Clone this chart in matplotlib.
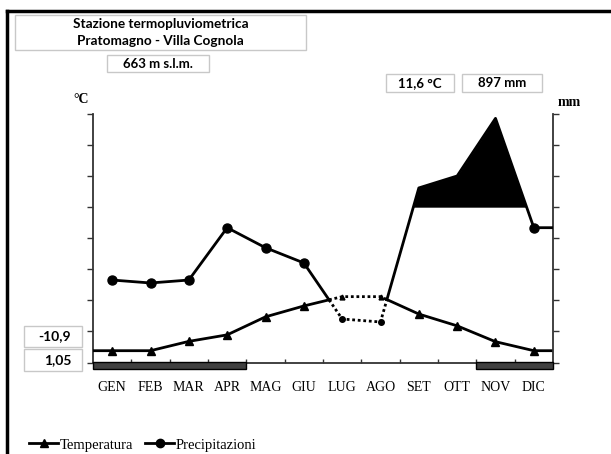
import matplotlib
matplotlib.use("Agg")
import matplotlib.pyplot as plt
import numpy as np
from matplotlib.patches import Rectangle
from matplotlib.lines import Line2D

months = ["GEN", "FEB", "MAR", "APR", "MAG", "GIU", "LUG", "AGO", "SET", "OTT", "NOV", "DIC"]
temperature = [3.8, 3.8, 6.8, 8.9, 14.7, 18.2, 21.2, 21.2, 15.6, 11.8, 6.7, 3.8]
precipitation = [53.1, 51.2, 53.1, 86.8, 73.9, 64.1, 28.0, 26.1, 112.4, 120.1, 157.2, 86.8]
frost_months = [(0, 4), (10, 12)]  # (first month index, end index)
title_lines = ["Stazione termopluviometrica", "Pratomagno - Villa Cognola"]
altitude_label = "663 m s.l.m."
mean_temp_label = "11,6 °C"
total_prec_label = "897 mm"
min_labels = ["-10,9", "1,05"]
humid_threshold = 100

W, H = 611, 454
fig = plt.figure(figsize=(W / 100, H / 100), dpi=100)

def fx(x):
    return x / W

def fy(y):
    return 1 - y / H

ax = fig.add_axes([fx(93), fy(362.5), fx(553) - fx(93), fy(114) - fy(362.5)])
ax2 = ax.twinx()

x = np.arange(12)
T = np.array(temperature)
P = np.array(precipitation)
T2 = 2 * T  # temperature on precipitation scale

# find crossings between precipitation and 2*T
segs = []
for i in range(11):
    d0 = P[i] - T2[i]
    d1 = P[i + 1] - T2[i + 1]
    if d0 * d1 < 0:
        t = d0 / (d0 - d1)
        segs.append((i + t, P[i] + t * (P[i + 1] - P[i])))
c1, c2 = segs[0], segs[1]
i1 = int(np.floor(c1[0]))
i2 = int(np.floor(c2[0]))

lw = 2.0
# precipitation (plotted on ax2)
ax2.fill_between(x, humid_threshold, P, where=P >= humid_threshold, interpolate=True,
                 color="black", zorder=2, linewidth=0)
px_solid1 = list(x[:i1 + 1]) + [c1[0]]
py_solid1 = list(P[:i1 + 1]) + [c1[1]]
px_dry = [c1[0]] + list(x[i1 + 1:i2 + 1]) + [c2[0]]
py_dry = [c1[1]] + list(P[i1 + 1:i2 + 1]) + [c2[1]]
px_solid2 = [c2[0]] + list(x[i2 + 1:]) + [11.5]
py_solid2 = [c2[1]] + list(P[i2 + 1:]) + [P[-1]]
ax2.plot(px_solid1, py_solid1, color="black", lw=lw, zorder=3)
ax2.plot(px_solid2, py_solid2, color="black", lw=lw, zorder=3)
ax2.plot(px_dry, py_dry, color="black", lw=lw, ls=(0, (1, 1)), zorder=3)
wet = (P - T2) >= 0
normal = wet & (P < humid_threshold)
ax2.plot(x[normal], P[normal], ls="none", marker="o", ms=6.5, color="black", zorder=4)
ax2.plot(x[~wet], P[~wet], ls="none", marker="o", ms=4, color="black", zorder=4)

# temperature on ax (0-80 scale)
tx_solid1 = [-0.5] + list(x[:i1 + 1]) + [c1[0]]
ty_solid1 = [T[0]] + list(T[:i1 + 1]) + [c1[1] / 2]
tx_dry = [c1[0]] + list(x[i1 + 1:i2 + 1]) + [c2[0]]
ty_dry = [c1[1] / 2] + list(T[i1 + 1:i2 + 1]) + [c2[1] / 2]
tx_solid2 = [c2[0]] + list(x[i2 + 1:]) + [11.5]
ty_solid2 = [c2[1] / 2] + list(T[i2 + 1:]) + [T[-1]]
ax.plot(tx_solid1, ty_solid1, color="black", lw=lw, zorder=3)
ax.plot(tx_solid2, ty_solid2, color="black", lw=lw, zorder=3)
ax.plot(tx_dry, ty_dry, color="black", lw=lw, ls=(0, (1, 1)), zorder=3)
ax.plot(x[wet], T[wet], ls="none", marker="^", ms=6, color="black", zorder=4)
ax.plot(x[~wet], T[~wet], ls="none", marker="^", ms=3.5, color="black", zorder=4)

ax.set_xlim(-0.5, 11.5)
ax.set_ylim(0, 80)
ax2.set_ylim(0, 160)
ax.set_yticks(np.arange(0, 81, 10))
ax2.set_yticks(np.arange(0, 161, 20))
ax.set_yticklabels([])
ax2.set_yticklabels([])
ax.set_xticks(x)
ax.set_xticklabels(months, fontfamily="Liberation Serif", fontsize=10)
ax.set_xticks(np.arange(0.5, 11, 1), minor=True)
ax.tick_params(axis="x", which="major", length=0, pad=13)
ax.tick_params(axis="x", which="minor", length=3, direction="in", width=1, color="#333333")
ax.tick_params(axis="y", length=4, width=1, color="#333333")
ax2.tick_params(axis="y", length=4, width=1, color="#333333")
for a in (ax, ax2):
    a.spines["top"].set_visible(False)
    for s in ("left", "right", "bottom"):
        a.spines[s].set_color("#333333")
        a.spines[s].set_linewidth(1.3)
ax2.spines["left"].set_visible(False)
ax.spines["right"].set_visible(False)
ax2.spines["bottom"].set_visible(False)
ax.patch.set_visible(False)

# frost bars
trans = matplotlib.transforms.blended_transform_factory(ax.transData, ax.transAxes)
for a0, a1 in frost_months:
    ax2.add_patch(Rectangle((a0 - 0.5, -0.026), a1 - a0, 0.029, transform=trans,
                            facecolor="#404040", edgecolor="black", lw=1.0,
                            clip_on=False, zorder=5))

# frame lines
fig.add_artist(Line2D([fx(7), 1], [fy(11), fy(11)], color="black", lw=2.5))
fig.add_artist(Line2D([fx(7), fx(7)], [fy(11), 0], color="black", lw=2.5))

def box(x0, y0, x1, y1, lines, size=9, ha="center", pad_right=0):
    fig.add_artist(Rectangle((fx(x0), fy(y1)), fx(x1) - fx(x0), fy(y0) - fy(y1),
                             transform=fig.transFigure, facecolor="white",
                             edgecolor="#c8c8c8", lw=1.0))
    n = len(lines)
    hstep = (y1 - y0) / n
    for k, t in enumerate(lines):
        yc = y0 + hstep * (k + 0.5)
        if ha == "center":
            fig.text(fx((x0 + x1) / 2), fy(yc), t, ha="center", va="center",
                     fontsize=size, fontweight="bold", fontfamily="Lato")
        else:
            fig.text(fx(x1 - pad_right), fy(yc), t, ha="right", va="center",
                     fontsize=size, fontweight="bold", fontfamily="Lato")

box(15, 15, 306, 50, title_lines, size=9.8)
box(107, 55, 209, 72, [altitude_label], size=9.5)
box(386, 74, 454, 92, [mean_temp_label], size=9.5)
box(462, 74, 542, 92, [total_prec_label], size=9.5)
box(24, 326, 82, 347, [min_labels[0]], size=10, ha="right", pad_right=11)
box(24, 349, 82, 371, [min_labels[1]], size=10, ha="right", pad_right=11)

fig.text(fx(81), fy(100), "°C", ha="center", va="center", fontsize=10,
         fontfamily="Liberation Serif", fontweight="bold")
fig.text(fx(569), fy(103), "mm", ha="center", va="center", fontsize=10,
         fontfamily="Liberation Serif", fontweight="bold")

handles = [Line2D([], [], color="black", lw=2, marker="^", ms=6),
           Line2D([], [], color="black", lw=2, marker="o", ms=6)]
fig.legend(handles, ["Temperatura", "Precipitazioni"], loc="center left",
           bbox_to_anchor=(fx(22), fy(445)), frameon=False, ncol=2,
           prop={"family": "Liberation Serif", "size": 10.5},
           handlelength=2.0, handletextpad=0.1, columnspacing=0.8, borderpad=0)

fig.savefig("out.png", dpi=100)
